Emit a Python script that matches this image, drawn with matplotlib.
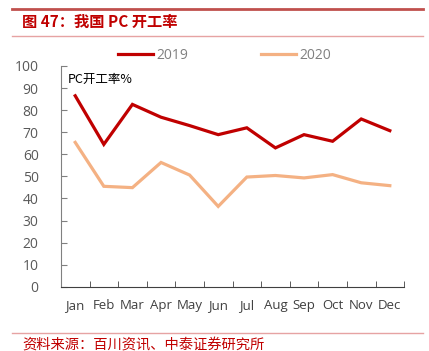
import matplotlib
matplotlib.use("Agg")
import matplotlib.pyplot as plt
import numpy as np

plt.rcParams['font.family'] = ['Open Sans', 'Noto Sans CJK SC', 'DejaVu Sans']

months = ['Jan', 'Feb', 'Mar', 'Apr', 'May', 'Jun', 'Jul', 'Aug', 'Sep', 'Oct', 'Nov', 'Dec']
rate_2019 = [86.5, 64.5, 82.6, 76.8, 73.0, 68.9, 72.0, 62.9, 68.9, 65.9, 76.0, 70.7]
rate_2020 = [65.4, 45.5, 44.9, 56.3, 50.6, 36.4, 49.7, 50.4, 49.3, 50.8, 47.1, 45.8]
yticks = list(range(0, 101, 10))

red = '#c00000'
peach = '#f4b183'

fig = plt.figure(figsize=(4.29, 3.51), dpi=100)
ax = fig.add_axes([0.142, 0.183, 0.800, 0.629])

x = np.arange(len(months))
ax.plot(x, rate_2019, color=red, lw=2.3, label='2019', solid_joinstyle='miter')
ax.plot(x, rate_2020, color=peach, lw=2.3, label='2020', solid_joinstyle='miter')

ax.set_xlim(-0.5, len(months) - 0.5)
ax.set_ylim(0, 100)
ax.set_yticks(yticks)
ax.set_xticks(x)
ax.set_xticklabels(months)
ax.set_xticks(np.arange(-0.5, len(months)), minor=True)
ax.tick_params(axis='x', which='major', length=0, pad=9, labelsize=9.5, labelcolor='#404040')
ax.tick_params(axis='x', which='minor', direction='in', length=4, color='#404040')
ax.tick_params(axis='y', direction='in', length=4, color='#808080', pad=16, labelsize=10, labelcolor='#595959')
ax.spines['top'].set_visible(False)
ax.spines['right'].set_visible(False)
ax.spines['left'].set_color('#808080')
ax.spines['bottom'].set_color('#404040')

ax.text(0.02, 0.97, 'PC开工率%', transform=ax.transAxes, fontsize=9,
        family=['Noto Sans CJK SC', 'DejaVu Sans'], va='top', ha='left', color='black')

leg = fig.legend(loc='center', bbox_to_anchor=(0.524, 0.843), ncol=2, frameon=False,
                 fontsize=10, handlelength=2.5, handletextpad=0.3, columnspacing=5.2)
for t in leg.get_texts():
    t.set_color('#808080')

# header and footer
fig.add_artist(plt.Line2D([0.028, 0.987], [0.974, 0.974], color='#c0504d', lw=2.0))
fig.add_artist(plt.Line2D([0.028, 0.987], [0.897, 0.897], color='#e6a3a3', lw=1.0))
fig.text(0.052, 0.937, '图 47：我国 PC 开工率', color=red, fontsize=11, fontweight='bold',
         family=['Noto Sans CJK SC', 'DejaVu Sans'], va='center', ha='left')
fig.add_artist(plt.Line2D([0.028, 0.987], [0.051, 0.051], color='#e6a3a3', lw=1.0))
fig.text(0.052, 0.016, '资料来源：百川资讯、中泰证券研究所', color=red, fontsize=10.3,
         family=['Noto Sans CJK SC', 'DejaVu Sans'], va='center', ha='left')

fig.savefig('out.png', dpi=100)
